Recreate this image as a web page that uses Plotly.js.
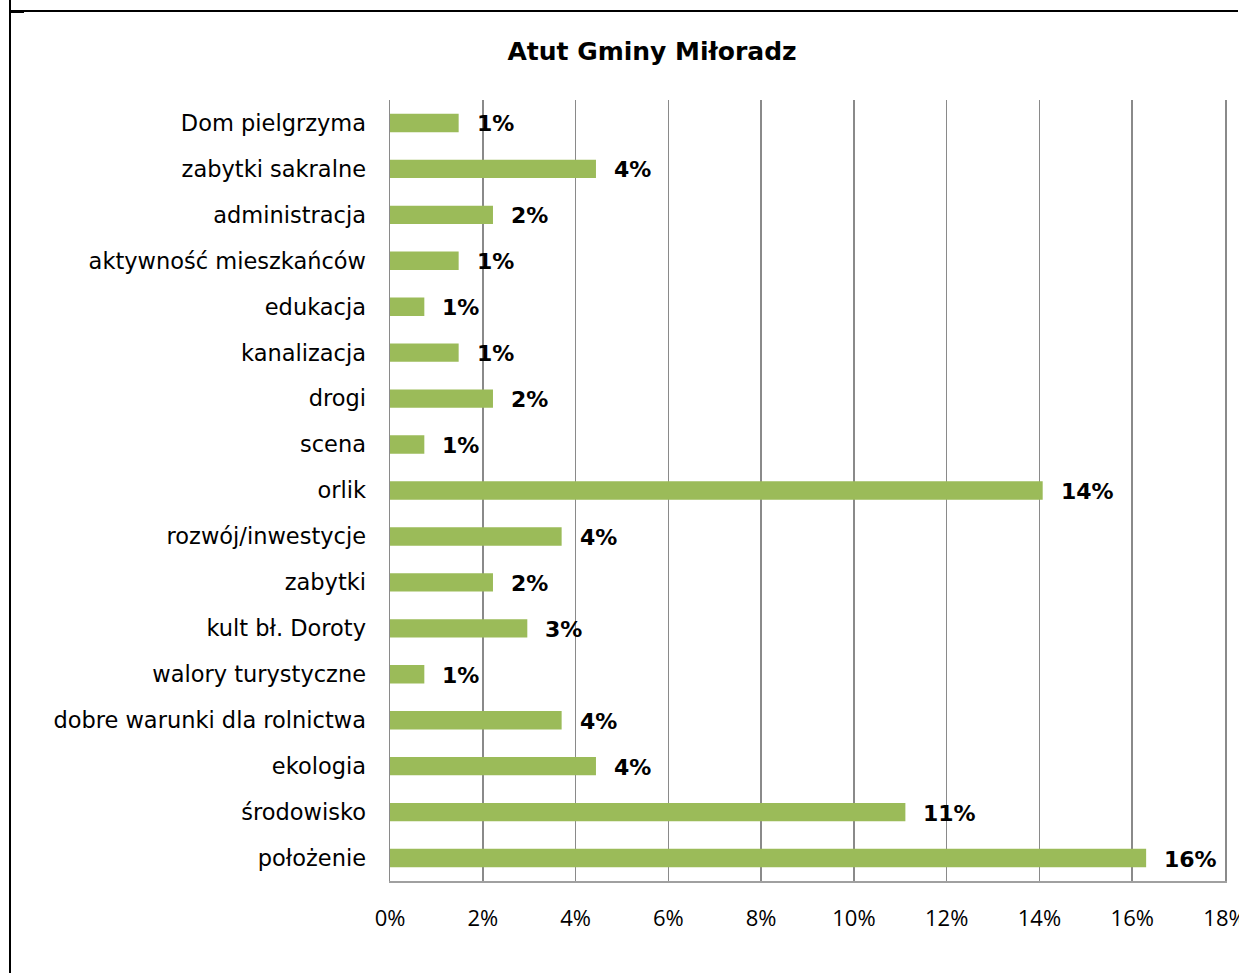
<!DOCTYPE html>
<html>
<head>
<meta charset="utf-8">
<script src="https://cdn.plot.ly/plotly-3.0.1.min.js"></script>
<style>
  html, body { margin: 0; padding: 0; background: #fff; overflow: hidden; }
  #wrap { position: relative; width: 1239px; height: 973px; overflow: hidden; }
  #chart { position: absolute; left: 0; top: 0; width: 1239px; height: 973px; }
  #vline { position: absolute; left: 9px; top: 0; width: 2px; height: 973px; background: #000; }
  #hline { position: absolute; left: 9px; top: 10px; width: 1229px; height: 2px; background: #000; }
  #stub { position: absolute; left: 9px; top: 10px; width: 15px; height: 3px; background: #000; }
</style>
</head>
<body>
<div id="wrap">
  <div id="chart"></div>
  <div id="vline"></div>
  <div id="hline"></div>
  <div id="stub"></div>
</div>
<script>
// Categories, top to bottom
const categories = [
  "Dom pielgrzyma",
  "zabytki sakralne",
  "administracja",
  "aktywność mieszkańców",
  "edukacja",
  "kanalizacja",
  "drogi",
  "scena",
  "orlik",
  "rozwój/inwestycje",
  "zabytki",
  "kult bł. Doroty",
  "walory turystyczne",
  "dobre warunki dla rolnictwa",
  "ekologia",
  "środowisko",
  "położenie"
];
// Share of answers, percent
const values = [1.48, 4.44, 2.22, 1.48, 0.74, 1.48, 2.22, 0.74, 14.07, 3.70, 2.22, 2.96, 0.74, 3.70, 4.44, 11.11, 16.30];
// Data labels as printed
const labels = ["1%", "4%", "2%", "1%", "1%", "1%", "2%", "1%", "14%", "4%", "2%", "3%", "1%", "4%", "4%", "11%", "16%"];
const tickValues = [0, 2, 4, 6, 8, 10, 12, 14, 16, 18];

const labelFont = "'DejaVu Sans', sans-serif";

const trace = {
  type: "bar",
  orientation: "h",
  x: values,
  y: categories,
  marker: { color: "#9BBB59" },
  hoverinfo: "none"
};

const annotations = values.map((v, i) => ({
  x: v, y: categories[i], xref: "x", yref: "y",
  text: labels[i], showarrow: false,
  xanchor: "left", yanchor: "middle", xshift: 16, yshift: -1,
  font: { family: labelFont, size: 22, color: "#000", weight: "bold" }
}));

const layout = {
  width: 1239, height: 973,
  paper_bgcolor: "#fff", plot_bgcolor: "#fff",
  margin: { l: 390, r: 14, t: 100, b: 92 },
  showlegend: false,
  bargap: 0.6,
  title: {
    text: "<b>Atut Gminy Miłoradz</b>",
    font: { family: labelFont, size: 25, color: "#000" },
    xref: "container", x: 652 / 1239, xanchor: "center",
    yref: "container", y: 1 - 51 / 973, yanchor: "middle"
  },
  xaxis: {
    range: [0, 18],
    tickvals: tickValues,
    ticktext: tickValues.map(v => v + "%"),
    showgrid: true, gridcolor: "#8a8a8a", gridwidth: 1.5,
    zeroline: false,
    showline: true, linecolor: "#a0a0a0", linewidth: 2,
    ticks: "",
    ticklabelstandoff: 17,
    ticklabeloverflow: "allow",
    tickfont: { family: "'Open Sans', sans-serif", size: 22, color: "#000" },
    fixedrange: true
  },
  yaxis: {
    type: "category",
    categoryorder: "array",
    categoryarray: categories,
    autorange: "reversed",
    showgrid: false, zeroline: false,
    showline: true, mirror: true, linecolor: "#8a8a8a", linewidth: 1.5,
    ticks: "",
    ticklabelstandoff: 18,
    tickfont: { family: labelFont, size: 22.5, color: "#000" },
    fixedrange: true
  },
  annotations: annotations
};

Plotly.newPlot("chart", [trace], layout, { displayModeBar: false, staticPlot: true });
</script>
</body>
</html>
